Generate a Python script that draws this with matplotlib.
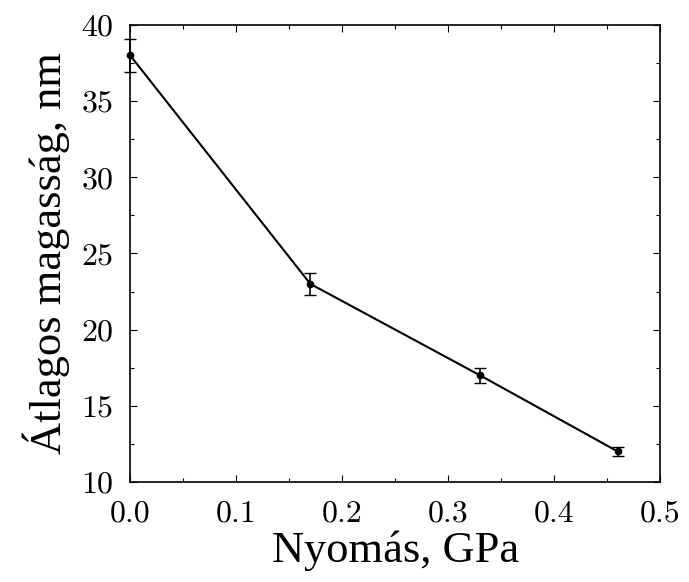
import matplotlib
matplotlib.use("Agg")
import matplotlib.pyplot as plt
from matplotlib.ticker import MultipleLocator

# data
pressure = [0.0, 0.17, 0.33, 0.46]
height = [38.0, 23.0, 17.0, 12.0]
height_err = [1.1, 0.7, 0.5, 0.3]

plt.rcParams["font.family"] = ["cmr10", "DejaVu Serif"]
plt.rcParams["axes.formatter.use_mathtext"] = True
label_font = ["Liberation Serif", "DejaVu Serif"]

fig = plt.figure(figsize=(6.89, 5.82), dpi=100)
ax = fig.add_axes([0.189, 0.172, 0.769, 0.785])

line, caps, bars = ax.errorbar(pressure, height, yerr=height_err, color="black", lw=1.5,
                               marker="o", ms=4.5, mfc="black", mec="black", mew=1.0,
                               capsize=4, elinewidth=1.2, capthick=1.2)
# first point sits on the y axis, don't cut its error bar in half
for art in [line, *caps, *bars]:
    art.set_clip_on(False)

ax.set_xlim(0, 0.5)
ax.set_ylim(10, 40)
ax.xaxis.set_major_locator(MultipleLocator(0.1))
ax.xaxis.set_minor_locator(MultipleLocator(0.05))
ax.yaxis.set_major_locator(MultipleLocator(5))
ax.yaxis.set_minor_locator(MultipleLocator(2.5))
ax.set_xticklabels([f"{v:.1f}" for v in ax.get_xticks()])
ax.tick_params(which="both", direction="in", top=True, right=True,
               labelsize=23, width=0.8)
ax.tick_params(which="major", length=5)
ax.tick_params(axis="x", which="major", pad=13)
ax.tick_params(axis="y", which="major", pad=12)
ax.tick_params(which="minor", length=3)
for s in ax.spines.values():
    s.set_linewidth(1.2)

ax.set_xlabel("Nyomás, GPa", fontsize=32, family=label_font, labelpad=2)
ax.set_ylabel("Átlagos magasság, nm", fontsize=32, family=label_font, labelpad=8)

fig.savefig("out.png", dpi=100)
